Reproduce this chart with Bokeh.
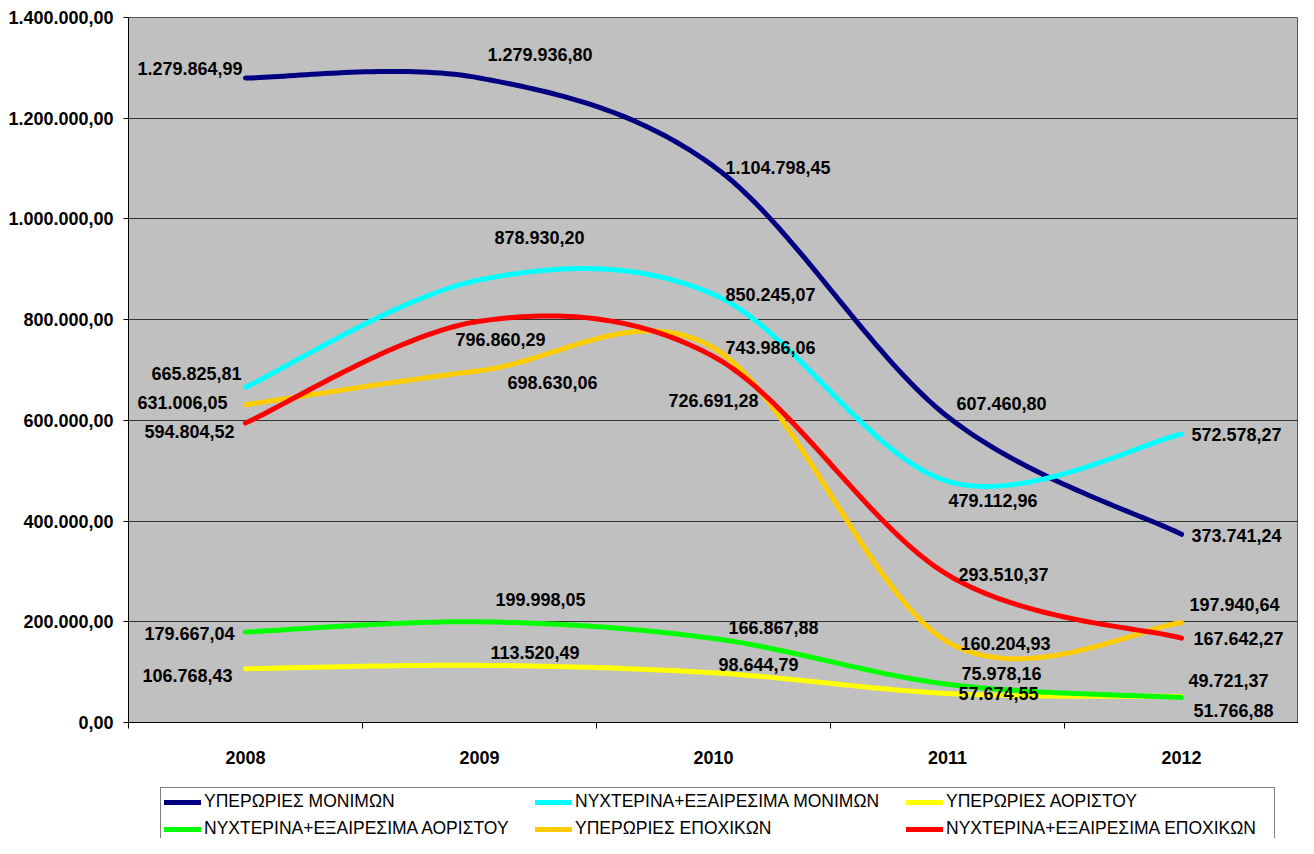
import numpy as np
from bokeh.plotting import figure
from bokeh.layouts import column
from bokeh.models import ColumnDataSource, FixedTicker, Legend, LegendItem, Range1d
from bokeh.embed import file_html
from bokeh.resources import INLINE
from bokeh.core.properties import value

# ---------------- data ----------------
years = ["2008", "2009", "2010", "2011", "2012"]

yperories_monimon = [1279864.99, 1279936.80, 1104798.45, 607460.80, 373741.24]
nyxterina_monimon = [665825.81, 878930.20, 850245.07, 479112.96, 572578.27]
yperories_aoristou = [106768.43, 113520.49, 98644.79, 57674.55, 51766.88]
nyxterina_aoristou = [179667.04, 199998.05, 166867.88, 75978.16, 49721.37]
yperories_epoxikon = [631006.05, 698630.06, 743986.06, 160204.93, 197940.64]
nyxterina_epoxikon = [594804.52, 796860.29, 726691.28, 293510.37, 167642.27]

series_names = [
    "ΥΠΕΡΩΡΙΕΣ ΜΟΝΙΜΩΝ",
    "ΝΥΧΤΕΡΙΝΑ+ΕΞΑΙΡΕΣΙΜΑ ΜΟΝΙΜΩΝ",
    "ΥΠΕΡΩΡΙΕΣ ΑΟΡΙΣΤΟΥ",
    "ΝΥΧΤΕΡΙΝΑ+ΕΞΑΙΡΕΣΙΜΑ ΑΟΡΙΣΤΟΥ",
    "ΥΠΕΡΩΡΙΕΣ ΕΠΟΧΙΚΩΝ",
    "ΝΥΧΤΕΡΙΝΑ+ΕΞΑΙΡΕΣΙΜΑ ΕΠΟΧΙΚΩΝ",
]
series_values = [yperories_monimon, nyxterina_monimon, yperories_aoristou,
                 nyxterina_aoristou, yperories_epoxikon, nyxterina_epoxikon]

y_ticks = [0, 200000, 400000, 600000, 800000, 1000000, 1200000, 1400000]
y_tick_labels = ["0,00", "200.000,00", "400.000,00", "600.000,00", "800.000,00",
                 "1.000.000,00", "1.200.000,00", "1.400.000,00"]

# ---------------- styling ----------------
series_colors = ["#000080", "#00FFFF", "#FFFF00", "#00FF00", "#FFCC00", "#FF0000"]
label_align = ["right", "left", "left", "left", "left"]
label_dx = [
    [-3, 8, 12, 9, 10],
    [-4, 15, 12, 1, 10],
    [-13, 11, 5, 11, 12],
    [-11, 16, 15, 14, 7],
    [-18, 28, 12, 13, 8],
    [-11, -24, -45, 11, 12],
]
label_dy = [
    [-9, -23, 1, -13, 1],
    [-14, -42, 0, 19, 0],
    [7, -13, -8, 0, 14],
    [1, -22, -11, -11, -17],
    [-2, 12, 0, 2, -18],
    [9, 18, 44, 0, 0],
]

FONT = "Liberation Sans"
W = 1298
H_MAIN = 776
H_LEG = 62


def fmt_gr(v):
    s = f"{v:,.2f}"
    return s.replace(",", "X").replace(".", ",").replace("X", ".")


def smooth(xs, ys, n=40):
    P = np.column_stack([xs, ys]).astype(float)
    m = len(P)
    T = np.zeros_like(P)
    for i in range(m):
        a = P[max(i - 1, 0)]
        b = P[min(i + 1, m - 1)]
        T[i] = (b - a) / 2.0
    outx, outy = [], []
    t = np.linspace(0, 1, n)
    for i in range(m - 1):
        p0 = P[i]
        p3 = P[i + 1]
        c1 = p0 + T[i] / 3.0
        c2 = p3 - T[i + 1] / 3.0
        tt = t if i == 0 else t[1:]
        b = ((1 - tt) ** 3)[:, None] * p0 + (3 * (1 - tt) ** 2 * tt)[:, None] * c1 \
            + (3 * (1 - tt) * tt ** 2)[:, None] * c2 + (tt ** 3)[:, None] * p3
        outx.extend(b[:, 0])
        outy.extend(b[:, 1])
    return outx, outy


x_pos = [i + 0.5 for i in range(len(years))]

p = figure(width=W, height=H_MAIN, output_backend="svg", toolbar_location=None,
           x_range=Range1d(0, len(years)), y_range=Range1d(0, 1400000),
           min_border_left=128, min_border_right=0, min_border_top=17,
           min_border_bottom=54)

p.background_fill_color = "#C0C0C0"
p.border_fill_color = "white"
p.outline_line_color = "#555555"
p.outline_line_width = 1

# axes
p.xaxis.ticker = FixedTicker(ticks=x_pos, minor_ticks=list(range(len(years) + 1)))
p.xaxis.major_label_overrides = {x: y for x, y in zip(x_pos, years)}
p.xaxis.major_tick_out = 0
p.xaxis.major_tick_in = 0
p.xaxis.minor_tick_out = 6
p.xaxis.minor_tick_in = 0
p.xaxis.minor_tick_line_color = "black"
p.xaxis.axis_line_color = "black"
p.xaxis.major_label_standoff = 22
p.xaxis.major_label_text_font = FONT
p.xaxis.major_label_text_font_style = "bold"
p.xaxis.major_label_text_font_size = "18px"
p.xaxis.major_label_text_color = "black"

p.yaxis.ticker = FixedTicker(ticks=y_ticks)
p.yaxis.major_label_overrides = {t: l for t, l in zip(y_ticks, y_tick_labels)}
p.yaxis.major_tick_out = 5
p.yaxis.major_tick_in = 0
p.yaxis.minor_tick_out = 0
p.yaxis.minor_tick_in = 0
p.yaxis.axis_line_color = "black"
p.yaxis.major_tick_line_color = "black"
p.yaxis.major_label_standoff = 10
p.yaxis.major_label_text_font = FONT
p.yaxis.major_label_text_font_style = "bold"
p.yaxis.major_label_text_font_size = "18px"
p.yaxis.major_label_text_color = "black"

p.xgrid.visible = False
p.ygrid.grid_line_color = "#333333"
p.ygrid.grid_line_width = 1

for vals, col in zip(series_values, series_colors):
    sx, sy = smooth(x_pos, vals)
    p.line(sx, sy, line_width=5, line_color=col, line_cap="round", line_join="round")

# data labels
for align in ("left", "right"):
    d = dict(x=[], y=[], text=[], dx=[], dy=[])
    for si, vals in enumerate(series_values):
        for i, v in enumerate(vals):
            if label_align[i] != align:
                continue
            d["x"].append(x_pos[i])
            d["y"].append(v)
            d["text"].append(fmt_gr(v))
            d["dx"].append(label_dx[si][i])
            d["dy"].append(label_dy[si][i])
    src = ColumnDataSource(d)
    p.text(x="x", y="y", text="text", x_offset="dx", y_offset="dy", source=src,
           text_align=align, text_baseline="middle", text_font=value(FONT),
           text_font_style="bold", text_font_size="18px", text_color="black")

# ---------------- legend strip (frame aligned with the chart frame) ----------------
pl = figure(width=W, height=H_LEG, output_backend="svg", toolbar_location=None,
            x_range=Range1d(0, 1), y_range=Range1d(0, 1),
            x_axis_location=None, y_axis_location=None,
            min_border_left=0, min_border_right=0, min_border_top=0, min_border_bottom=0)
pl.grid.visible = False
pl.outline_line_color = None
pl.background_fill_color = "white"
pl.border_fill_color = "white"

nan = float("nan")
leg_renderers = []
for col in series_colors:
    r = pl.line(x=[nan], y=[nan], line_width=5, line_color=col, line_cap="round")
    leg_renderers.append(r)

legend = Legend(
    items=[LegendItem(label=n, renderers=[r]) for n, r in zip(series_names, leg_renderers)],
    orientation="horizontal", ncols=3, location=(32, -5),
    glyph_width=37, glyph_height=20, label_height=20, label_width=325,
    label_standoff=3, padding=3, spacing=6, margin=0,
    border_line_color="black", border_line_width=1,
    background_fill_color="white", background_fill_alpha=1.0,
    label_text_font=FONT, label_text_font_size="17.5px", label_text_color="black",
)
pl.add_layout(legend, "center")

layout = column(p, pl, spacing=0)
open("out.html", "w").write(file_html(layout, INLINE))
